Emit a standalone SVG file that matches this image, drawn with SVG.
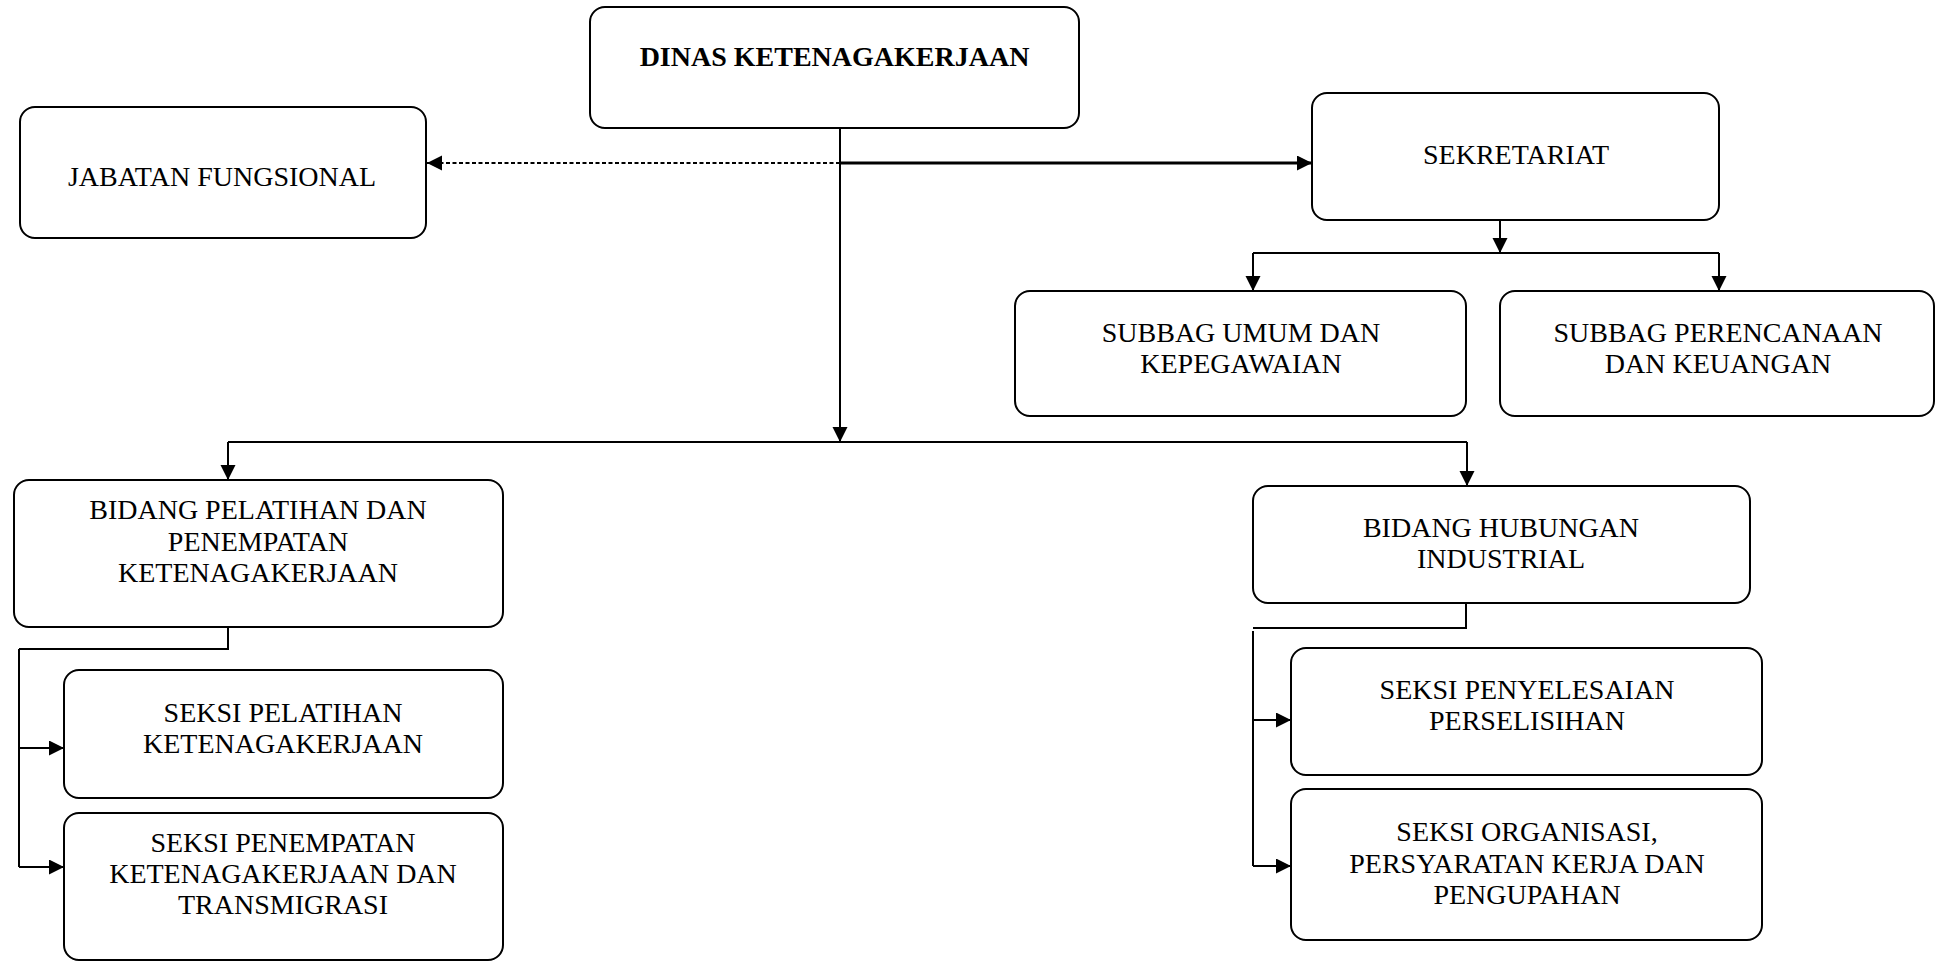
<svg xmlns="http://www.w3.org/2000/svg" width="1936" height="962" viewBox="0 0 1936 962">
<style>
.box{fill:#fff;stroke:#000;stroke-width:2}
.t{font-family:"Liberation Serif","Times New Roman",serif;font-size:28px;fill:#000;text-anchor:middle}
.b{font-weight:bold}
.c{fill:none;stroke:#000;stroke-width:2}
.thick{stroke-width:3}
.dash{stroke-dasharray:4 2.5}
</style>
<defs>
<marker id="ah" markerUnits="userSpaceOnUse" markerWidth="16" markerHeight="16" refX="15" refY="7.5" orient="auto" viewBox="0 0 16 16">
<path d="M0,0 L15,7.5 L0,15 z" fill="#000"/>
</marker>
</defs>
<rect width="1936" height="962" fill="#fff"/>
<g id="connectors">
<path class="c" d="M840,128 V442" marker-end="url(#ah)"/>
<path class="c" d="M228,442 H1467"/>
<path class="c" d="M228,442 V480" marker-end="url(#ah)"/>
<path class="c" d="M1467,442 V486" marker-end="url(#ah)"/>
<path class="c dash" d="M840,163 H427" marker-end="url(#ah)"/>
<path class="c thick" d="M840,163 H1312" marker-end="url(#ah)"/>
<path class="c" d="M1500,220 V253" marker-end="url(#ah)"/>
<path class="c" d="M1253,253 H1719"/>
<path class="c" d="M1253,253 V291" marker-end="url(#ah)"/>
<path class="c" d="M1719,253 V291" marker-end="url(#ah)"/>
<path class="c" d="M228,627 V649 H19"/>
<path class="c" d="M19,649 V867"/>
<path class="c" d="M19,748 H64" marker-end="url(#ah)"/>
<path class="c" d="M19,867 H64" marker-end="url(#ah)"/>
<path class="c" d="M1466,603 V628 H1253"/>
<path class="c" d="M1253,631 V866"/>
<path class="c" d="M1253,720 H1291" marker-end="url(#ah)"/>
<path class="c" d="M1253,866 H1291" marker-end="url(#ah)"/>
</g>
<g id="dinas">
<rect class="box" x="590" y="7" width="489" height="121" rx="15"/>
<text class="t b" x="834.5" y="66">DINAS KETENAGAKERJAAN</text>
</g>
<g id="jabatan">
<rect class="box" x="20" y="107" width="406" height="131" rx="15"/>
<text class="t" x="222" y="186">JABATAN FUNGSIONAL</text>
</g>
<g id="sekretariat">
<rect class="box" x="1312" y="93" width="407" height="127" rx="15"/>
<text class="t" x="1516" y="164">SEKRETARIAT</text>
</g>
<g id="subbag-umum">
<rect class="box" x="1015" y="291" width="451" height="125" rx="15"/>
<text class="t" x="1241" y="342">SUBBAG UMUM DAN</text>
<text class="t" x="1241" y="373">KEPEGAWAIAN</text>
</g>
<g id="subbag-perencanaan">
<rect class="box" x="1500" y="291" width="434" height="125" rx="15"/>
<text class="t" x="1718" y="342">SUBBAG PERENCANAAN</text>
<text class="t" x="1718" y="373">DAN KEUANGAN</text>
</g>
<g id="bidang-pelatihan">
<rect class="box" x="14" y="480" width="489" height="147" rx="15"/>
<text class="t" x="258" y="519">BIDANG PELATIHAN DAN</text>
<text class="t" x="258" y="551">PENEMPATAN</text>
<text class="t" x="258" y="582">KETENAGAKERJAAN</text>
</g>
<g id="seksi-pelatihan">
<rect class="box" x="64" y="670" width="439" height="128" rx="15"/>
<text class="t" x="283" y="722">SEKSI PELATIHAN</text>
<text class="t" x="283" y="753">KETENAGAKERJAAN</text>
</g>
<g id="seksi-penempatan">
<rect class="box" x="64" y="813" width="439" height="147" rx="15"/>
<text class="t" x="283" y="852">SEKSI PENEMPATAN</text>
<text class="t" x="283" y="883">KETENAGAKERJAAN DAN</text>
<text class="t" x="283" y="914">TRANSMIGRASI</text>
</g>
<g id="bidang-hubungan">
<rect class="box" x="1253" y="486" width="497" height="117" rx="15"/>
<text class="t" x="1501" y="537">BIDANG HUBUNGAN</text>
<text class="t" x="1501" y="568">INDUSTRIAL</text>
</g>
<g id="seksi-penyelesaian">
<rect class="box" x="1291" y="648" width="471" height="127" rx="15"/>
<text class="t" x="1527" y="699">SEKSI PENYELESAIAN</text>
<text class="t" x="1527" y="730">PERSELISIHAN</text>
</g>
<g id="seksi-organisasi">
<rect class="box" x="1291" y="789" width="471" height="151" rx="15"/>
<text class="t" x="1527" y="841">SEKSI ORGANISASI,</text>
<text class="t" x="1527" y="873">PERSYARATAN KERJA DAN</text>
<text class="t" x="1527" y="904">PENGUPAHAN</text>
</g>
</svg>
